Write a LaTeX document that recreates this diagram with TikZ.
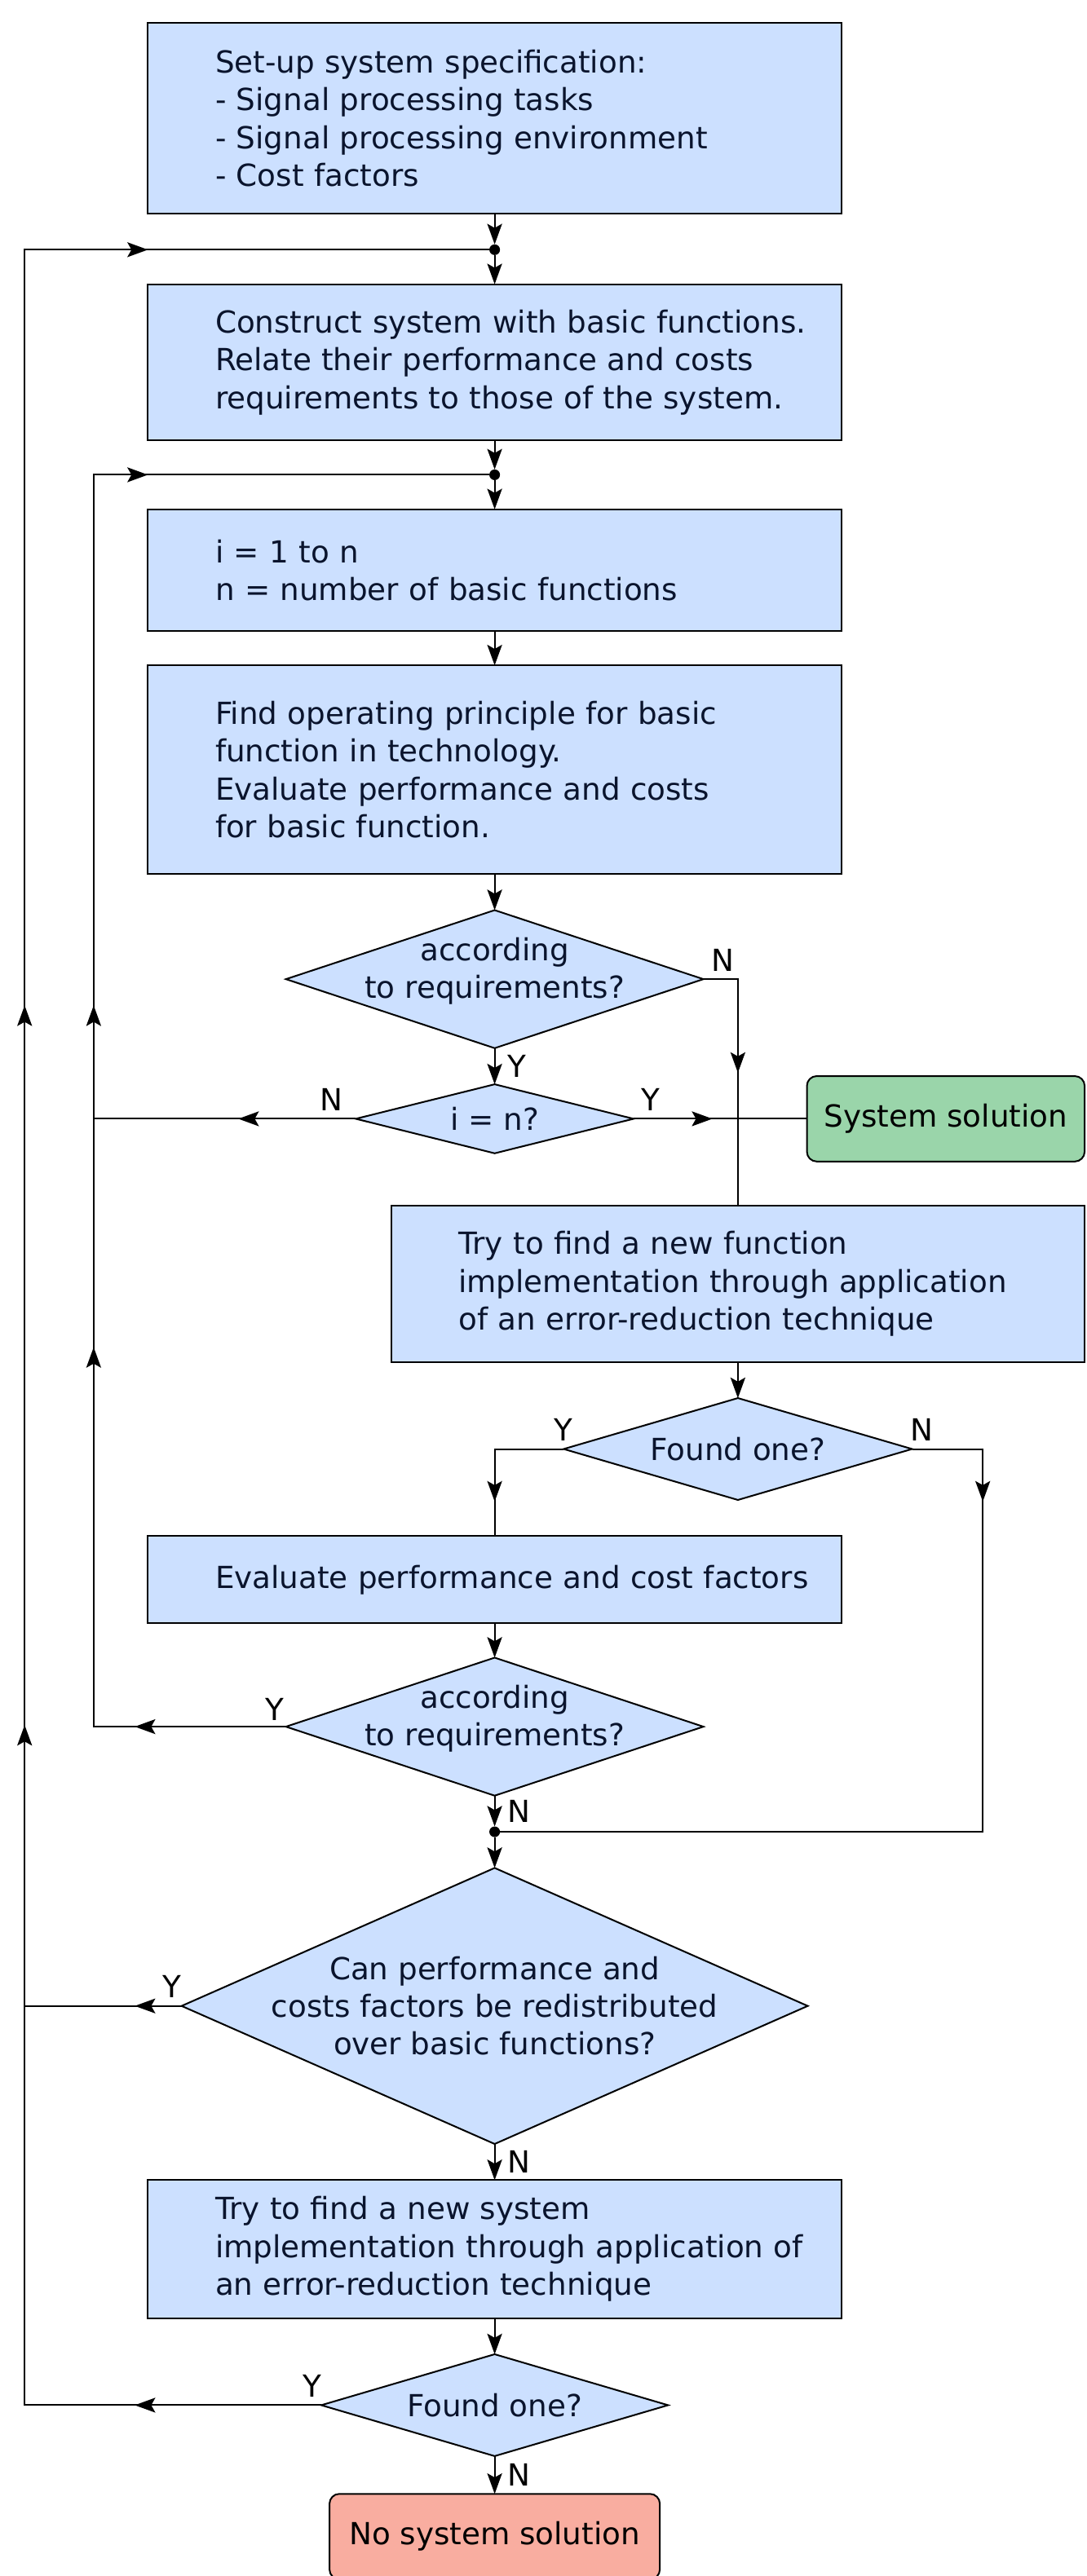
\documentclass[tikz,border=0pt]{standalone}
\usepackage{fontspec}
\setmainfont{DejaVu Sans}
\usepackage{xcolor}
\usepackage{tikz}
\usetikzlibrary{arrows.meta,positioning,shapes.geometric,decorations.markings}

\definecolor{boxblue}{RGB}{204,224,255}
\definecolor{solgreen}{RGB}{154,213,170}
\definecolor{nosolred}{RGB}{249,173,160}
\definecolor{ink}{RGB}{10,20,45}

\begin{document}
\begin{tikzpicture}[
    x=1pt, y=-1pt,
    >={Stealth[length=12.5pt,width=9pt,inset=2.5pt]},
    every node/.style={font=\fontsize{18.5}{23}\selectfont, outer sep=0pt},
    box/.style={draw, fill=boxblue, text=ink, line width=1pt, minimum width=422pt, text width=400pt, inner xsep=0pt, inner ysep=0pt, align=left, execute at begin node={\leftskip=30pt}},
    decide/.style={draw, diamond, fill=boxblue, line width=1pt, inner sep=0pt},
    dtext/.style={text=ink, align=center},
    term/.style={draw, rounded corners=6pt, line width=1pt, text=black, minimum height=52pt},
    dot/.style={circle, fill, inner sep=0pt, minimum size=6.5pt},
    yn/.style={text=black, inner sep=2pt},
    line/.style={line width=1pt},
    arr/.style={line width=1pt, ->},
    tipat/.style={postaction={decorate, decoration={markings, mark=at position #1 with {\arrow{>}}}}},
]
\useasboundingbox (0,0) rectangle (661,1568);

% Rails
\coordinate (outer) at (15,0);
\coordinate (inner) at (57,0);
\coordinate (right) at (598,0);

% Nodes
\node (spec) [box, minimum height=116pt] at (301,72) {Set-up system specification:\\- Signal processing tasks\\- Signal processing environment\\- Cost factors};
\node (j1) [dot] at (301,152) {};
\node (construct) [box, minimum height=95pt, below=43pt of spec] {Construct system with basic functions.\\Relate their performance and costs\\requirements to those of the system.};
\node (j2) [dot] at (301,289) {};
\node (loop) [box, minimum height=74pt, below=42pt of construct] {i = 1 to n\\n = number of basic functions};
\node (find) [box, minimum height=127pt, below=21pt of loop] {Find operating principle for basic\\function in technology.\\Evaluate performance and costs\\for basic function.};
\node (req1) [decide, minimum width=254pt, minimum height=84pt, below=22pt of find, label={[dtext, yshift=5pt]center:{according\\to requirements?}}] {};
\node (last) [decide, minimum width=169pt, minimum height=42pt, below=22pt of req1, label={[dtext]center:{i = n?}}] {};
\node (sol) [term, fill=solgreen, minimum width=169pt, right=105.5pt of last] {System solution};
\node (newfn) [box, minimum height=95pt] at (449,781.5) {Try to find a new function\\implementation through application\\of an error-reduction technique};
\node (found1) [decide, minimum width=212pt, minimum height=62pt, below=22pt of newfn, label={[dtext]center:{Found one?}}] {};
\node (eval) [box, minimum height=53pt] at (301,961.5) {Evaluate performance and cost factors};
\node (req2) [decide, minimum width=254pt, minimum height=84pt, below=21pt of eval, label={[dtext, yshift=5pt]center:{according\\to requirements?}}] {};
\node (j3) [dot] at (301,1115) {};
\node (redist) [decide, minimum width=381pt, minimum height=168pt, below=44pt of req2, label={[dtext]center:{Can performance and\\costs factors be redistributed\\over basic functions?}}] {};
\node (newsys) [box, minimum height=84pt, below=22pt of redist] {Try to find a new system\\implementation through application of\\an error-reduction technique};
\node (found2) [decide, minimum width=211pt, minimum height=62pt, below=22pt of newsys, label={[dtext]center:{Found one?}}] {};
\node (nosol) [term, fill=nosolred, minimum width=201pt, below=23pt of found2] {No system solution};

% Main flow
\draw[arr] (spec) -- (j1);
\draw[arr] (j1) -- (construct);
\draw[arr] (construct) -- (j2);
\draw[arr] (j2) -- (loop);
\draw[arr] (loop) -- (find);
\draw[arr] (find) -- (req1);
\draw[arr] (req1) -- node[yn, right=6pt] {Y} (last);
\draw[arr] (newfn) -- (found1);
\draw[arr] (eval) -- (req2);
\draw[arr] (req2) -- node[yn, right=6pt] {N} (j3);
\draw[arr] (j3) -- (redist);
\draw[arr] (redist) -- node[yn, right=6pt] {N} (newsys);
\draw[arr] (newsys) -- (found2);
\draw[arr] (found2) -- node[yn, right=6pt] {N} (nosol);

% Branches
\draw[line, tipat=78pt] (req1.east) node[yn, above right=3pt and 3pt] {N} -| (newfn.north);
\draw[line, tipat=48pt] (last.east) node[yn, above right=3pt and 3pt] {Y} -- (sol.west);
\draw[line, tipat=71.5pt] (last.west) node[yn, above left=3pt and 6pt] {N} -- (inner |- last.west);
\draw[line, tipat=74pt] (found1.west) node[yn, above=3pt] {Y} -| (eval.north);
\draw[line, tipat=75pt] (found1.east) node[yn, above right=3pt and -3pt] {N} -| (right |- j3) -- (j3);

% Loops back
\draw[line, tipat=92pt, tipat=348pt, tipat=556pt, tipat=912pt] (req2.west) node[yn, above left=2pt and -1pt] {Y} -| (inner |- j2) -- (j2);
\draw[line, tipat=28.5pt] (redist.west) node[yn, above left=3pt and -2pt] {Y} -- (outer |- redist.west);
\draw[line, tipat=113.5pt, tipat=594.5pt, tipat=1032.5pt, tipat=1567.5pt] (found2.west) node[yn, above left=3pt and -2pt] {Y} -| (outer |- j1) -- (j1);
\end{tikzpicture}
\end{document}
